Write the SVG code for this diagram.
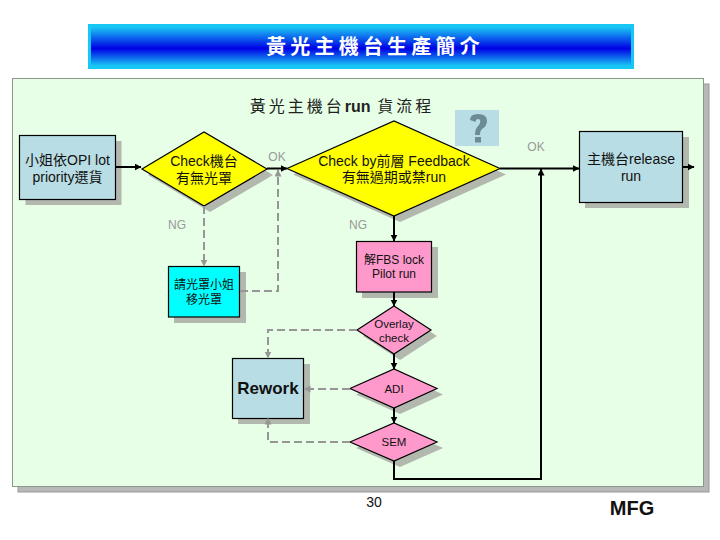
<svg xmlns="http://www.w3.org/2000/svg" width="720" height="540" viewBox="0 0 720 540">
<style>
text{font-family:"Liberation Sans","Noto Sans CJK TC",sans-serif;text-anchor:middle;fill:#111}
.s{fill:#b2b8ae}
.n{stroke:#000;stroke-width:1.2}
.blue{fill:#b9dde4}.yel{fill:#ffff00}.pink{fill:#ff99cc}.cy{fill:#00ffff}
.t13{font-size:14px}.t12{font-size:12px}.t11{font-size:11.5px}
.lab{font-size:12px;fill:#999}
.b{fill:none;stroke:#000;stroke-width:2}
.g{fill:none;stroke:#969696;stroke-width:2;stroke-dasharray:8 4}
</style>
<defs>
<linearGradient id="bar" x1="0" y1="0" x2="0" y2="1"><stop offset="0" stop-color="#1ac8f5"/><stop offset="0.55" stop-color="#0000e6"/><stop offset="1" stop-color="#1ac8f5"/></linearGradient>
<marker id="ab" markerWidth="8" markerHeight="8" refX="6.5" refY="3.5" orient="auto" markerUnits="userSpaceOnUse"><path d="M0 0L7 3.5L0 7z" fill="#000"/></marker>
<marker id="ag" markerWidth="8" markerHeight="8" refX="6.5" refY="3.5" orient="auto" markerUnits="userSpaceOnUse"><path d="M0 0L7 3.5L0 7z" fill="#969696"/></marker>
</defs>
<rect width="720" height="540" fill="#fff"/>
<g id="banner">
<rect x="88" y="24" width="546" height="45" fill="#18c8f4"/>
<rect x="91" y="27" width="540" height="39" fill="url(#bar)"/>
<text x="375" y="54" style="font-size:20px;font-weight:bold;letter-spacing:4.200px;font-family:'Noto Sans CJK TC',sans-serif;fill:#fff">黃光主機台生產簡介</text>
</g>
<g id="panel">
<rect x="18" y="84" width="691" height="408" fill="#b8b8b8" stroke="#999"/>
<rect x="12.500" y="78.500" width="691" height="408" fill="#e6ffe6" stroke="#8c968c" stroke-width="1"/>
<text x="342" y="112" style="font-size:16px;font-family:'Noto Sans CJK TC',sans-serif;letter-spacing:3px;fill:#222">黃光主機台<tspan style="font-family:'Liberation Sans';font-weight:bold;letter-spacing:0">run</tspan> 貨流程</text>
</g>
<g id="help">
<rect x="455" y="110" width="44" height="36" fill="#b9dde4"/>
<path d="M470 120 Q470 114 478 114 Q487 114 487 121 Q487 126 482 129 Q480 131 480 135 L475 135 Q475 129 478 126 Q481 123 480 120 Q478 118 476 120 L475.500 122 Z" fill="#6d8b93"/>
<rect x="475" y="137" width="6" height="5.500" fill="#6d8b93"/>
</g>
<g id="n1"><rect class="s" x="25.500" y="141" width="96" height="64"/><rect class="n blue" x="19.500" y="135.500" width="96" height="64"/>
<text class="t13" x="67.500" y="165">小姐依OPI lot</text><text class="t13" x="67.500" y="182">priority選貨</text></g>
<g id="d1"><path class="s" d="M148 175L210 138L273 175L210 212Z"/><path class="n yel" d="M142 169L204 132L267 169L204 206Z"/>
<text class="t13" x="204" y="166">Check機台</text><text class="t13" x="204" y="183">有無光罩</text></g>
<g id="d2"><path class="s" d="M293 174.500L400 127L506 174.500L400 222Z"/><path class="n yel" d="M287 168.500L394 121L500 168.500L394 216Z"/>
<text class="t13" x="394" y="166">Check by前層 Feedback</text><text class="t13" x="394" y="182">有無過期或禁run</text></g>
<g id="n2"><rect class="s" x="585" y="137" width="104" height="71"/><rect class="n blue" x="579.500" y="131.500" width="103" height="71"/>
<text class="t13" x="631" y="164">主機台release</text><text class="t13" x="631" y="181">run</text></g>
<g id="n3"><rect class="s" x="362" y="247" width="76" height="51"/><rect class="n pink" x="356.500" y="241.500" width="75" height="50.500"/>
<text class="t12" x="394" y="264">解FBS lock</text><text class="t12" x="394" y="278">Pilot run</text></g>
<g id="n4"><rect class="s" x="174" y="272" width="72" height="51"/><rect class="n cy" x="168.500" y="266.500" width="71" height="50.500"/>
<text class="t12" x="204" y="289">請光罩小姐</text><text class="t12" x="204" y="304">移光罩</text></g>
<g id="d3"><path class="s" d="M363 336L400 312L437 336L400 360Z"/><path class="n pink" d="M357 330L394 306L431 330L394 354Z"/>
<text class="t11" x="394" y="328">Overlay</text><text class="t11" x="394" y="342">check</text></g>
<g id="d4"><path class="s" d="M356 394.500L400 375L443 394.500L400 414Z"/><path class="n pink" d="M350 388.500L394 369L437 388.500L394 408Z"/>
<text class="t11" x="394" y="393">ADI</text></g>
<g id="d5"><path class="s" d="M356 448L400 429L443 448L400 467Z"/><path class="n pink" d="M350 442L394 423L437 442L394 461Z"/>
<text class="t11" x="394" y="446">SEM</text></g>
<g id="n5"><rect class="s" x="238" y="364" width="72" height="60"/><rect class="n blue" x="232.500" y="358.500" width="71" height="60"/>
<text x="268" y="394" style="font-size:17px;font-weight:bold">Rework</text></g>
<g id="connectors">
<path class="b" d="M116 167H141" marker-end="url(#ab)"/>
<path class="b" d="M267 168.500H287" marker-end="url(#ab)"/>
<path class="b" d="M500 168.500H579" marker-end="url(#ab)"/>
<path class="b" d="M683 167H694" marker-end="url(#ab)"/>
<path class="b" d="M394 216V241" marker-end="url(#ab)"/>
<path class="b" d="M394 292V306" marker-end="url(#ab)"/>
<path class="b" d="M394 354V369" marker-end="url(#ab)"/>
<path class="b" d="M394 408V423" marker-end="url(#ab)"/>
<path class="b" d="M394 461V479H541V169" marker-end="url(#ab)"/>
<path class="g" d="M204 206V266" marker-end="url(#ag)"/>
<path class="g" d="M240 291H278V170" marker-end="url(#ag)"/>
<path class="g" d="M357 330H268V358" marker-end="url(#ag)"/>
<path class="g" d="M350 389H304" marker-end="url(#ag)"/>
<path class="g" d="M350 442H268V418" marker-end="url(#ag)"/>
</g>
<g id="labels">
<text class="lab" x="277" y="161">OK</text>
<text class="lab" x="536" y="151">OK</text>
<text class="lab" x="177" y="229">NG</text>
<text class="lab" x="358" y="229">NG</text>
<text x="374" y="507" style="font-size:14px">30</text>
<text x="632" y="515" style="font-size:20px;font-weight:bold">MFG</text>
</g>
</svg>
